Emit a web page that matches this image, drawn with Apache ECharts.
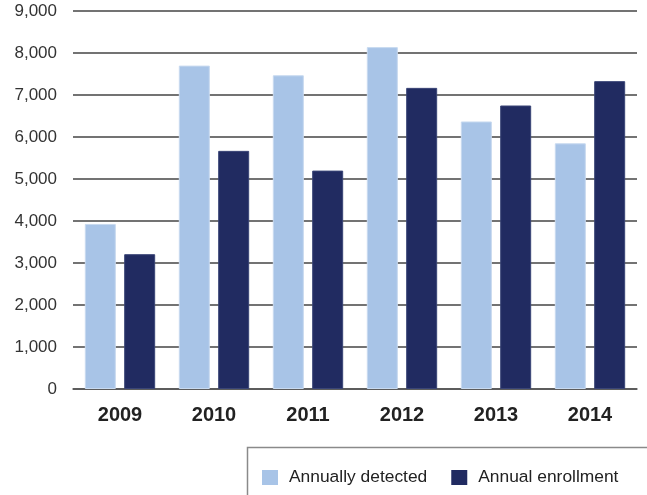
<!DOCTYPE html>
<html><head><meta charset="utf-8">
<script src="https://cdn.jsdelivr.net/npm/echarts@6/dist/echarts.min.js"></script>
<style>html,body{margin:0;padding:0;background:#fff}#c{width:647px;height:495px}</style>
</head><body><div id="c"></div>
<script>
const categories = ['2009','2010','2011','2012','2013','2014'];
const detected = [3930, 7700, 7470, 8140, 6370, 5850];
const enrollment = [3210, 5670, 5200, 7170, 6750, 7330];
const seriesNames = ['Annually detected', 'Annual enrollment'];

const chart = echarts.init(document.getElementById('c'), null, {renderer: 'canvas'});
chart.setOption({
  animation: false,
  grid: {left: 73, right: 10, top: 11, bottom: 106, containLabel: false},
  graphic: [{
    type: 'rect', left: 245, top: 445,
    shape: {width: 420, height: 70},
    style: {fill: 'none', stroke: '#8a8a8a', lineWidth: 1.5}
  }],
  legend: {
    left: 257, top: 464,
    itemWidth: 16, itemHeight: 15, itemGap: 24,
    icon: 'rect',
    itemStyle: {borderWidth: 0},
    textStyle: {fontFamily: 'Liberation Sans, Arial', fontSize: 17.4, color: '#222', padding: [0,0,0,6]},
    data: seriesNames
  },
  xAxis: {
    type: 'category', data: categories,
    axisLine: {lineStyle: {color: '#555', width: 1.5}},
    axisTick: {show: false},
    axisLabel: {fontFamily: 'Liberation Sans Narrow, Liberation Sans, Arial', fontSize: 20, fontWeight: 'bold', color: '#222', margin: 16}
  },
  yAxis: {
    type: 'value', min: 0, max: 9000, interval: 1000,
    axisLine: {show: false}, axisTick: {show: false},
    splitLine: {lineStyle: {color: '#444', width: 1.5}},
    axisLabel: {fontFamily: 'Liberation Sans, Arial', fontSize: 17, color: '#333', margin: 16,
      formatter: v => v.toLocaleString('en-US')}
  },
  series: [
    {name: seriesNames[0], type: 'bar', data: detected, barWidth: 31, barGap: '27%',
     itemStyle: {color: '#A8C4E7', borderColor: '#C8DAF0', borderWidth: 1}},
    {name: seriesNames[1], type: 'bar', data: enrollment, barWidth: 31,
     itemStyle: {color: '#212B61', borderColor: '#3A4577', borderWidth: 1}}
  ]
});
</script></body></html>
